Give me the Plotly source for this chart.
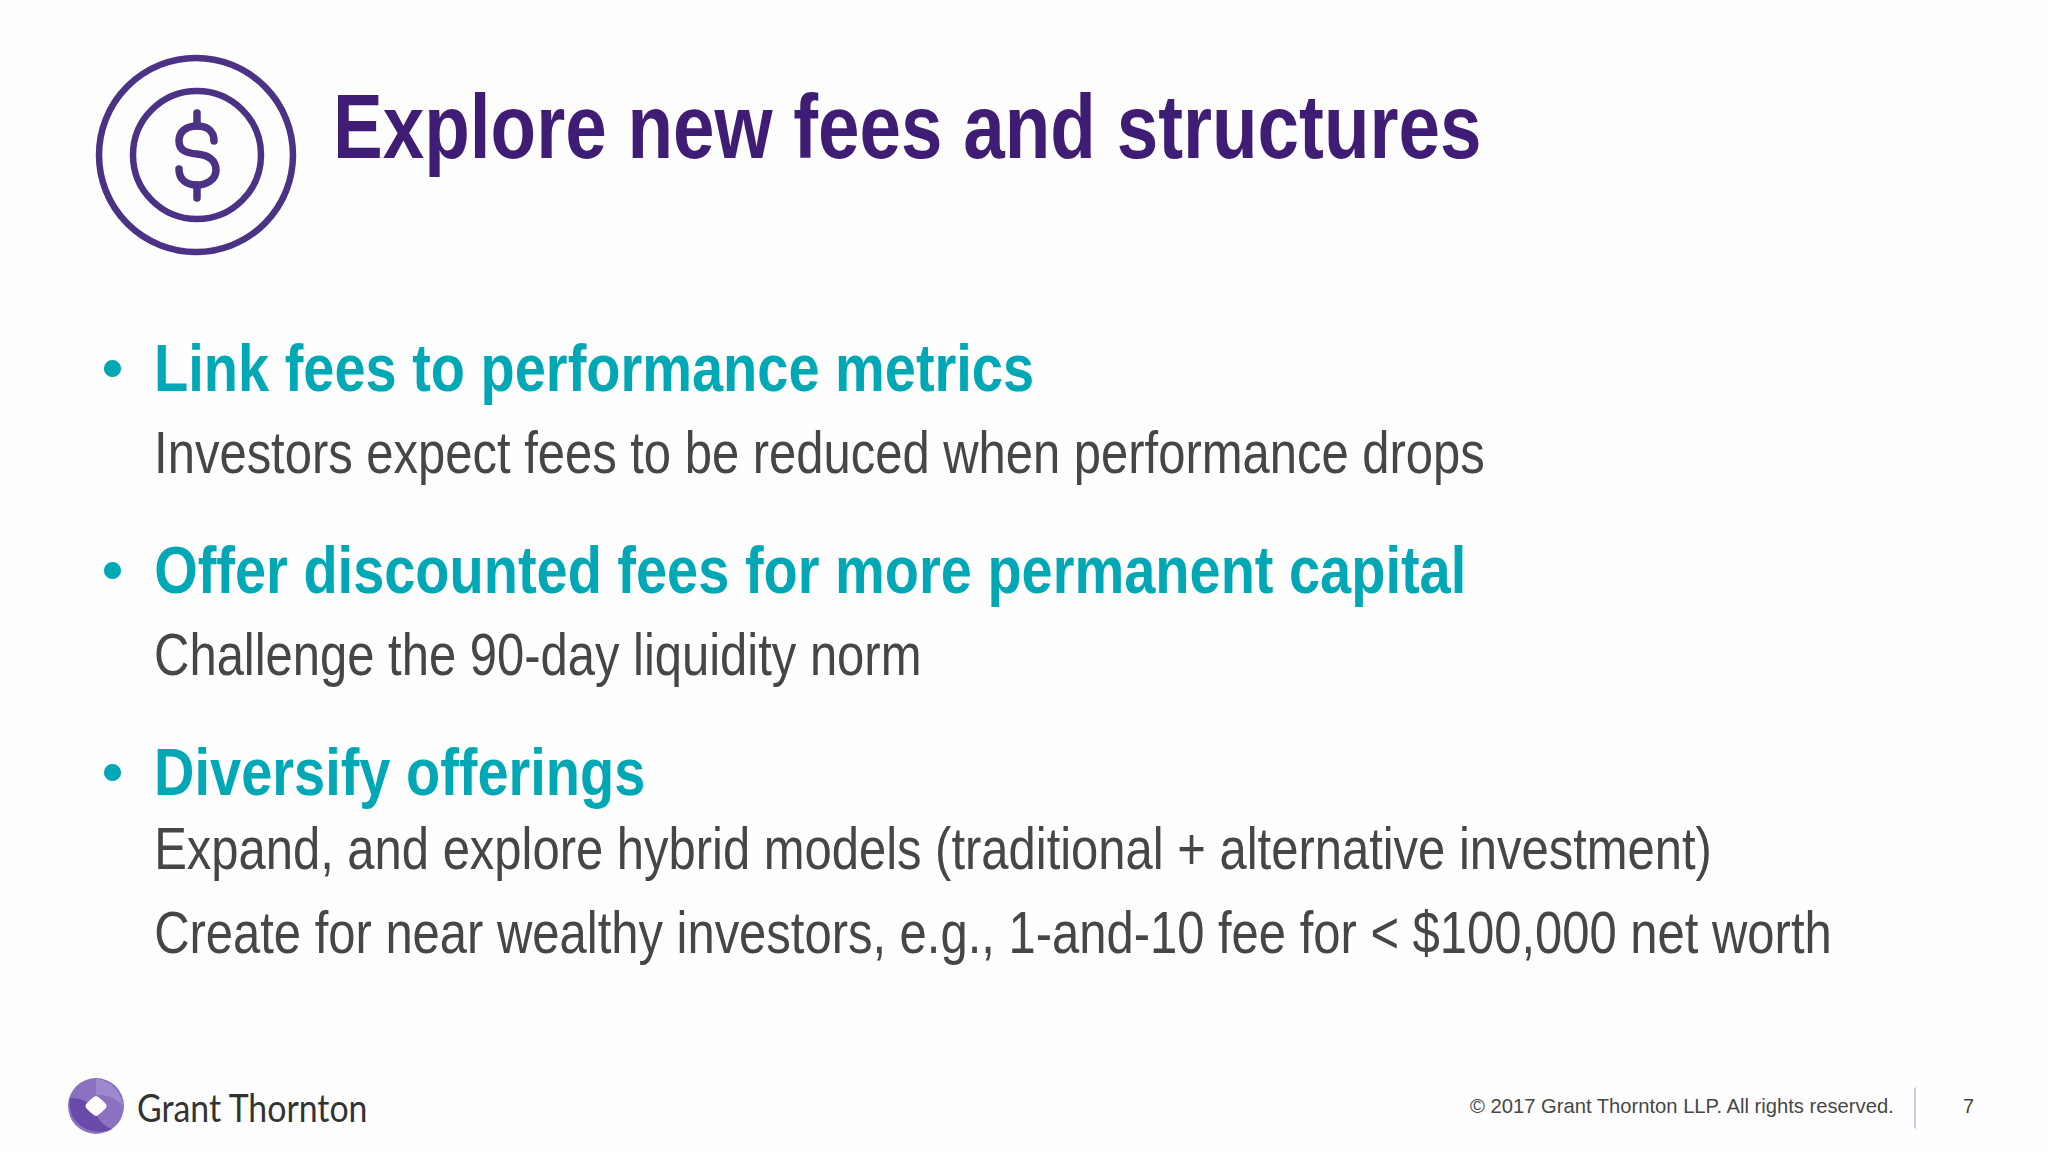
import plotly.graph_objects as go

# slide texts
title = "Explore new fees and structures"
headings = ["Link fees to performance metrics",
            "Offer discounted fees for more permanent capital",
            "Diversify offerings"]
heading_y = [368, 570, 772]
details = ["Investors expect fees to be reduced when performance drops",
           "Challenge the 90-day liquidity norm",
           "Expand, and explore hybrid models (traditional + alternative investment)",
           "Create for near wealthy investors, e.g., 1-and-10 fee for < $100,000 net worth"]
detail_y = [452, 654, 848, 932]
copyright_text = "© 2017 Grant Thornton LLP. All rights reserved."
page_number = "7"
logo_text = "Grant Thornton"

PURPLE = "#3f1d74"
TEAL = "#00a7b5"
GREY = "#464646"
SANS = "Liberation Sans"

fig = go.Figure()

# texts
def add_text(x, y, text, size, color, weight=400, family=SANS, anchor="left"):
    fig.add_annotation(x=x, y=y, text=text, showarrow=False, xanchor=anchor, yanchor="middle",
                       font=dict(size=size, color=color, family=family, weight=weight))

add_text(331, 127, title, 90, PURPLE, weight=700)
for h, y in zip(headings, heading_y):
    add_text(100, y - 1, "•", 60, TEAL, weight=700)
    add_text(152, y, h, 66, TEAL, weight=700)
for d, y in zip(details, detail_y):
    add_text(152, y, d, 60, GREY)
add_text(1468, 1106, copyright_text, 20.2, GREY)
add_text(1968, 1106, page_number, 20, GREY, anchor="center")
add_text(135, 1107, logo_text, 38, "#333333", family="Lato")

# dollar icon
def circle(cx, cy, r, **kw):
    fig.add_shape(type="circle", x0=cx - r, x1=cx + r, y0=cy - r, y1=cy + r, **kw)

icon_line = dict(color="#4b3284", width=6.5)
circle(196, 155, 97, line=icon_line)
circle(197, 155, 64, line=icon_line)
fig.add_shape(type="path",
              path="M 214 141 C 214 130 206 126 197 126 C 187 126 179 131 179 141 C 179 151 187 153 197 154"
                   " C 208 155 216 160 216 170 C 216 180 206 185 197 185 C 187 185 179 180 179 169",
              line=dict(color="#4b3284", width=7.5))
fig.add_shape(type="line", x0=197, x1=197, y0=113, y1=126, line=dict(color="#4b3284", width=7.5))
fig.add_shape(type="line", x0=197, x1=197, y0=185, y1=198, line=dict(color="#4b3284", width=7.5))

# logo
circle(96, 1106, 28, fillcolor="#8a72c0", line=dict(width=0))
fig.add_shape(type="path", path="M 70 1098 C 82 1098 90 1102 94 1110 C 98 1120 104 1126 112 1129 C 92 1138 66 1124 70 1098 Z",
              fillcolor="#6a4aa8", line=dict(width=0))
fig.add_shape(type="path", path="M 96 1079 C 110 1080 122 1092 123 1106 C 116 1098 106 1094 96 1095 Z",
              fillcolor="#9d89cd", line=dict(width=0))
fig.add_shape(type="path", path="M 96 1096 Q 98 1096 105 1103 Q 108 1106 105 1109 Q 98 1116 96 1116 Q 94 1116 87 1109 Q 84 1106 87 1103 Q 94 1096 96 1096 Z",
              fillcolor="#ffffff", line=dict(width=0))

# footer divider
fig.add_shape(type="line", x0=1915, x1=1915, y0=1088, y1=1128, line=dict(color="#c5b9dd", width=1.5))

fig.update_xaxes(range=[0, 2048], visible=False, fixedrange=True)
fig.update_yaxes(range=[1152, 0], visible=False, fixedrange=True)
fig.update_layout(width=2048, height=1152, margin=dict(l=0, r=0, t=0, b=0),
                  paper_bgcolor="#fefefe", plot_bgcolor="#fefefe", showlegend=False)

# no narrow font is installed, so squeeze the big lines horizontally from their left edge
squeeze_js = """
document.body.style.margin = '0';
function squeeze() {
  document.querySelectorAll('.annotation-text').forEach(function (t) {
    var size = parseFloat(t.style.fontSize);
    var s = size >= 90 ? 0.829 : (size >= 66 ? 0.848 : (size >= 60 ? 0.816 : (t.style.fontFamily.indexOf('Lato') >= 0 ? 0.89 : 1)));
    if (s === 1 || t.textContent === '•') return;
    t.removeAttribute('transform');
    var x0 = t.getBBox().x;
    t.setAttribute('transform', 'translate(' + x0 + ',0) scale(' + s + ',1) translate(' + (-x0) + ',0)');
  });
  document.querySelectorAll('.shapelayer path').forEach(function (p) {
    p.style.strokeLinecap = 'round';
  });
}
setTimeout(squeeze, 200);
"""
fig.write_html("out.html", config={"displayModeBar": False}, post_script=squeeze_js)
